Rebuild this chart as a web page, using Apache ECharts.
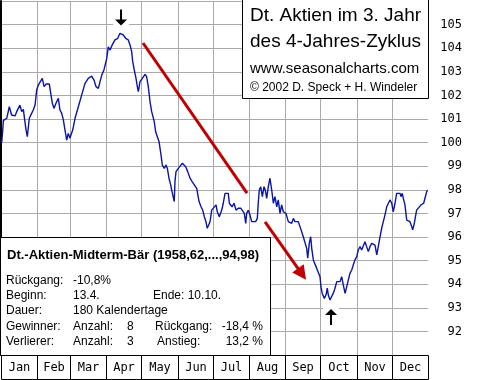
<!DOCTYPE html>
<html><head><meta charset="utf-8">
<script src="https://cdn.jsdelivr.net/npm/echarts@6/dist/echarts.min.js"></script>
<style>html,body{margin:0;padding:0;background:#fff}#c{width:480px;height:380px}</style>
</head><body><div id="c"></div>
<script>
// ---- data ----
const monthNames = ['Jan','Feb','Mar','Apr','May','Jun','Jul','Aug','Sep','Oct','Nov','Dec'];
const monthStarts = [0,31,59,90,120,151,181,212,243,273,304,334,365];
const yMin = 91, yMax = 106;

const days = [
0.6,1.5,2.0,4.9,7.1,9.1,12.0,13.4,16.2,17.7,19.1,19.9,21.4,22.5,24.2,26.2,27.6,29.1,30.5,31.9,
33.3,35.3,36.8,38.5,41.3,42.5,43.9,45.3,47.0,49.0,50.4,51.9,53.3,54.7,56.2,57.5,59.0,59.8,61.3,63.3,
66.1,69.0,71.8,74.6,77.5,79.5,81.2,83.2,84.6,86.1,88.0,
88.9,90.4,91.7,93.2,95.1,97.4,99.8,101.7,104.5,106.6,108.8,110.3,111.7,112.6,113.9,115.4,116.8,117.4,118.8,120.8,
123.1,124.5,125.9,127.4,128.8,131.0,132.2,133.9,135.1,136.8,137.9,139.6,141.0,142.2,143.6,145.1,145.9,147.3,148.1,148.7,
149.6,151.6,153.0,155.0,156.7,157.9,159.6,161.6,163.5,165.2,167.3,169.3,171.0,172.4,173.8,175.2,176.3,
178.7,180.1,181.5,183.8,184.9,186.6,188.7,190.0,191.5,192.9,194.3,195.2,196.3,197.5,199.2,200.9,202.8,204.9,206.6,208.0,
209.2,210.0,211.4,212.8,214.3,215.7,217.7,219.1,219.9,220.8,222.0,223.4,224.8,225.9,227.1,228.5,229.9,231.4,232.8,234.2,
235.7,237.0,238.5,239.9,241.3,243.6,245.6,247.0,248.5,249.9,251.3,252.8,254.1,255.6,257.0,258.4,259.9,261.3,262.2,263.5,
264.7,265.6,267.0,268.4,
269.9,271.2,272.7,273.5,274.6,276.4,277.8,278.9,279.8,281.2,282.7,284.0,285.5,287.0,288.3,289.8,291.2,292.6,294.1,295.5,
296.9,298.3,299.8,301.1,302.6,304.1,305.4,306.9,308.3,309.7,311.1,312.6,314.0,315.4,316.9,318.2,319.7,321.2,322.5,324.0,
325.4,326.8,328.2,329.7,331.1,332.5,334.0,335.3,336.8,338.2,339.6,341.1,341.9,343.0,343.9,345.3,346.8,348.2,349.6,351.1,
351.9,353.3,354.5,355.3,356.7,359.0,360.1,361.3,362.4,363.9,364.7
];
const values = [
100.0,100.53,100.93,101.03,101.52,101.17,101.13,101.31,101.59,101.31,101.41,101.10,100.53,100.25,101.03,101.24,101.38,101.59,102.23,102.44,
102.51,102.72,102.37,102.48,102.48,102.09,101.67,101.45,101.67,101.88,101.38,101.24,100.96,100.53,100.11,100.39,100.18,100.32,100.53,101.03,
101.52,102.02,102.51,102.72,102.82,102.65,102.37,102.30,102.37,102.86,103.08,
103.15,103.57,104.06,103.92,104.14,104.35,104.42,104.63,104.56,104.42,104.35,104.14,103.85,103.43,103.08,102.72,102.30,102.16,102.58,102.72,
102.89,102.79,102.37,101.73,101.31,100.89,100.46,100.39,100.04,99.47,99.05,98.91,99.05,98.91,98.49,98.20,97.99,98.06,97.50,98.34,
98.77,98.91,98.84,99.12,99.12,98.98,98.77,98.49,98.34,98.34,98.06,97.50,97.28,97.14,96.86,96.65,96.37,
96.65,97.14,97.22,97.36,97.07,96.86,97.14,97.43,97.85,97.88,97.85,97.43,97.50,97.28,97.43,97.14,97.22,97.22,97.14,97.00,
96.58,97.00,97.14,96.93,96.65,96.72,96.65,96.79,97.43,97.99,98.13,97.71,98.13,97.99,97.64,98.13,98.49,97.99,97.43,97.71,
97.28,97.57,97.00,97.36,97.07,97.00,96.65,96.72,96.58,96.79,96.65,96.58,96.65,96.44,96.37,96.01,95.94,95.52,95.10,95.73,
96.01,95.52,95.03,94.85,
94.67,94.74,94.32,93.89,93.61,93.40,93.54,93.83,93.54,93.33,93.40,93.61,93.83,94.11,94.18,94.11,94.32,93.97,93.61,93.89,
94.18,94.46,94.60,94.81,95.03,95.17,95.45,95.59,95.45,95.45,95.80,95.84,95.38,95.59,95.73,95.80,95.66,95.24,95.59,96.01,
96.37,96.65,96.93,97.28,97.36,97.57,97.43,97.07,97.43,97.85,97.78,97.85,97.71,97.85,97.64,97.36,96.72,96.65,96.65,96.44,
96.30,96.58,96.93,97.14,97.22,97.36,97.36,97.43,97.64,97.92,97.99
];

// annotations (data space: [day, value])
const peakMarker = [102.6, 105.30];
const troughMarker = [282.1, 92.61];
const trendLine = [[121.4, 104.22], [210.3, 97.86]];
const trendArrow = [[225.7, 96.64], [257.3, 94.43]];

const titleLines = ['Dt. Aktien im 3. Jahr', 'des 4-Jahres-Zyklus', 'www.seasonalcharts.com', '\u00a9 2002 D. Speck + H. Windeler'];
const infoTitle = 'Dt.-Aktien-Midterm-B\u00e4r (1958,62,...,94,98)';
const infoRows = [
  ['R\u00fcckgang:', '-10,8%'],
  ['Beginn:', '13.4.', 'Ende: 10.10.'],
  ['Dauer:', '180 Kalendertage'],
  ['Gewinner:', 'Anzahl:', '8', 'R\u00fcckgang:', '-18,4 %'],
  ['Verlierer:', 'Anzahl:', '3', 'Anstieg:', '13,2 %']
];

// ---- chart ----
const chart = echarts.init(document.getElementById('c'), null, {renderer: 'canvas'});
const SANS = '"Liberation Sans", Arial, sans-serif';
const MONO = '"DejaVu Sans Mono", monospace';

const graphics = [];
graphics.push({type:'rect', z:100, shape:{x:242.5, y:-0.5, width:186, height:99}, style:{fill:'#fff', stroke:'#000', lineWidth:1}});
const tFonts = ['19px', '19px', '15px', '12px'];
const tY = [16, 42, 69, 88];
titleLines.forEach((t, i) => graphics.push({type:'text', z:101, x:250, y:tY[i],
  style:{text:t, font:tFonts[i] + ' ' + SANS, fill:'#000', verticalAlign:'middle', align:'left'}}));

graphics.push({type:'rect', z:100, shape:{x:0.5, y:237.5, width:270, height:118}, style:{fill:'#fff', stroke:'#000', lineWidth:1}});
graphics.push({type:'text', z:101, x:7, y:255, style:{text:infoTitle, font:'bold 13px ' + SANS, fill:'#000', verticalAlign:'middle'}});
const rowY = [281, 296, 311, 327, 342];
const colX = {
  0: [6, 73],
  1: [6, 73, 153],
  2: [6, 73],
  3: [6, 73, 127, 155, 263],
  4: [6, 73, 127, 157, 263]
};
infoRows.forEach((row, r) => {
  row.forEach((txt, c) => {
    const last = (r >= 3 && c === 4);
    graphics.push({type:'text', z:101, x:colX[r][c], y:rowY[r],
      style:{text:txt, font:'12px ' + SANS, fill:'#000', verticalAlign:'middle', align: last ? 'right' : 'left'}});
  });
});

const option = {
  animation: false,
  backgroundColor: '#fff',
  grid: [
    {left: 1, right: 52, top: 1, bottom: 25},
    {left: 1, right: 52, top: 355, height: 25}
  ],
  xAxis: [
    {gridIndex: 0, type: 'value', min: 0, max: 365, show: false},
    {gridIndex: 1, type: 'value', min: 0, max: 365, show: false}
  ],
  yAxis: [
    {gridIndex: 0, type: 'value', min: yMin, max: yMax, interval: 1, position: 'right',
     axisLine: {show: true, lineStyle: {color: '#000', width: 1}},
     axisTick: {show: false},
     splitLine: {show: true, lineStyle: {color: '#aaaaaa', width: 1}},
     axisLabel: {showMinLabel: false, showMaxLabel: false, align: 'right', margin: 34,
                 fontFamily: MONO, fontSize: 12, color: '#000'}},
    {gridIndex: 0, type: 'value', min: yMin, max: yMax, position: 'left',
     axisLine: {show: true, lineStyle: {color: '#000', width: 2}},
     axisTick: {show: false}, axisLabel: {show: false}, splitLine: {show: false}},
    {gridIndex: 1, type: 'value', min: 0, max: 1, show: false}
  ],
  series: [
    {
      type: 'custom', name: 'monthGrid', xAxisIndex: 0, yAxisIndex: 0, z: 1, silent: true,
      data: monthStarts.slice(1, 12).map(d => [d, yMin]),
      renderItem: (params, api) => {
        const a = api.coord([api.value(0), yMax]);
        const b = api.coord([api.value(0), yMin]);
        const x = Math.round(a[0]) + 0.5;
        return {type: 'line', shape: {x1: x, y1: a[1], x2: x, y2: b[1]}, style: {stroke: '#aaaaaa', lineWidth: 1}};
      }
    },
    {
      type: 'line', name: 'Dt. Aktien', xAxisIndex: 0, yAxisIndex: 0, z: 3,
      data: days.map((d, i) => [d, values[i]]),
      showSymbol: false, symbol: 'none',
      lineStyle: {color: '#0a14a8', width: 1.4},
      markLine: {
        silent: true, animation: false, symbol: ['none', 'none'],
        label: {show: false},
        lineStyle: {color: '#c00000', width: 3, type: 'solid'},
        emphasis: {disabled: true},
        data: [
          [{coord: trendLine[0]}, {coord: trendLine[1]}],
          [{coord: trendArrow[0], symbol: 'none'}, {coord: trendArrow[1], symbol: 'triangle', symbolSize: [14, 14]}]
        ]
      },
      markPoint: {
        silent: true, animation: false, label: {show: false},
        data: [
          {coord: peakMarker, symbol: 'rect', symbolSize: [16, 20], itemStyle: {color: '#fff'}},
          {coord: peakMarker, symbol: 'path://M5,0 L7,0 L7,10 L12,10 L6,16 L0,10 L5,10 Z', symbolSize: [12, 16], itemStyle: {color: '#000'}},
          {coord: troughMarker, symbol: 'rect', symbolSize: [16, 20], itemStyle: {color: '#fff'}},
          {coord: troughMarker, symbol: 'path://M6,0 L12,6 L7,6 L7,16 L5,16 L5,6 L0,6 Z', symbolSize: [12, 16], itemStyle: {color: '#000'}}
        ]
      }
    },
    {
      type: 'custom', name: 'months', xAxisIndex: 1, yAxisIndex: 2, silent: true,
      data: monthNames.map((n, i) => [monthStarts[i], monthStarts[i + 1]]),
      encode: {x: [0, 1]},
      renderItem: (params, api) => {
        const a = api.coord([api.value(0), 1]);
        const b = api.coord([api.value(1), 0]);
        const x0 = Math.round(a[0]), x1 = Math.round(b[0]);
        const y0 = Math.round(a[1]), y1 = Math.round(b[1]);
        return {type: 'group', children: [
          {type: 'rect', shape: {x: x0 + 0.5, y: y0 + 0.5, width: x1 - x0, height: y1 - y0 - 1},
           style: {fill: '#fff', stroke: '#000', lineWidth: 1}},
          {type: 'text', style: {text: monthNames[params.dataIndex], x: (x0 + x1) / 2 + 0.5, y: (y0 + y1) / 2,
           align: 'center', verticalAlign: 'middle', font: '12px ' + MONO, fill: '#000'}}
        ]};
      }
    }
  ],
  graphic: graphics
};
chart.setOption(option);
</script>
</body></html>
